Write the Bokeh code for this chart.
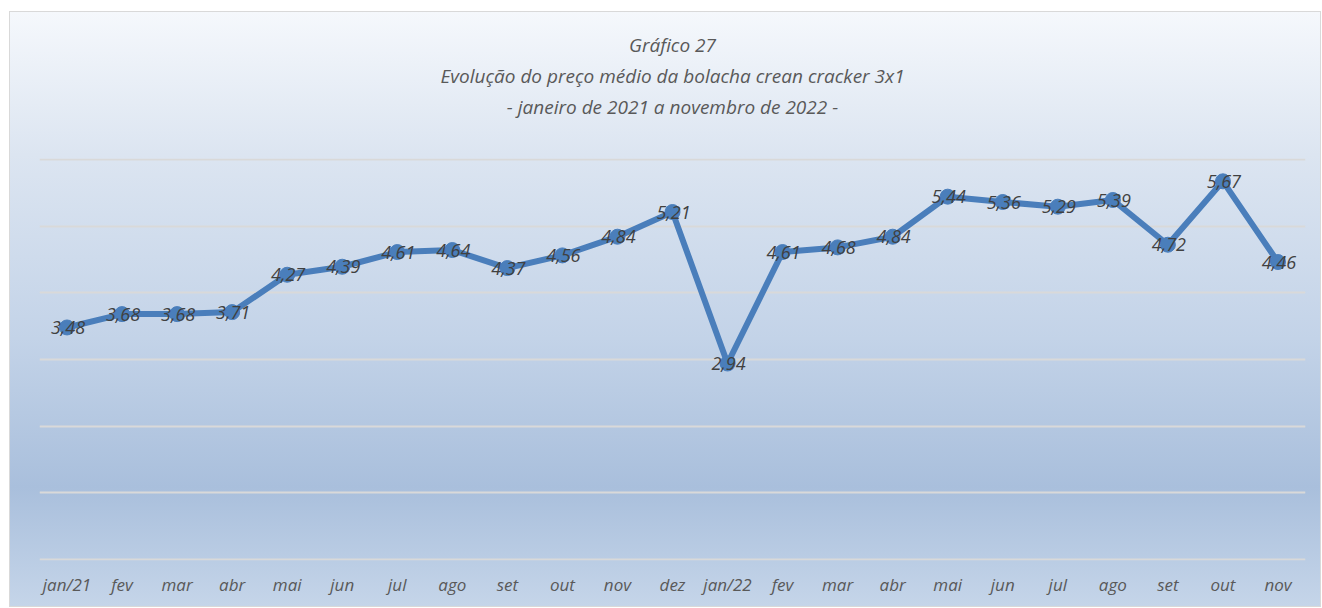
from bokeh.plotting import figure
from bokeh.models import ColumnDataSource, FixedTicker, Title, LabelSet
from bokeh.core.properties import value
from bokeh.embed import file_html
from bokeh.resources import INLINE

months = ["jan/21", "fev", "mar", "abr", "mai", "jun", "jul", "ago", "set", "out", "nov", "dez",
          "jan/22", "fev", "mar", "abr", "mai", "jun", "jul", "ago", "set", "out", "nov"]
prices = [3.48, 3.68, 3.68, 3.71, 4.27, 4.39, 4.61, 4.64, 4.37, 4.56, 4.84, 5.21,
          2.94, 4.61, 4.68, 4.84, 5.44, 5.36, 5.29, 5.39, 4.72, 5.67, 4.46]
title_lines = ["Gráfico 27",
               "Evolução do preço médio da bolacha crean cracker 3x1",
               "- janeiro de 2021 a novembro de 2022 -"]
y_ticks = [0, 1, 2, 3, 4, 5, 6]

FONT = "Open Sans"
xs = list(range(len(months)))
labels = [f"{v:.2f}".replace(".", ",") for v in prices]
src = ColumnDataSource(dict(x=xs, y=prices, lab=labels))

p = figure(width=1312, height=596, output_backend="svg", toolbar_location=None,
           x_range=(-0.5, len(months) - 0.5), y_range=(-0.012, 6.012),
           min_border_left=29, min_border_right=17, min_border_bottom=48, min_border_top=146,
           margin=(11, 0, 0, 9))
p.background_fill_alpha = 0
p.border_fill_alpha = 0
p.outline_line_color = None
p.styles = {"background": "linear-gradient(to bottom, #f5f8fc 0%, #dce5f1 24%, #c3d3e8 55%, #a9bfdc 80%, #c5d5e9 100%)",
            "border": "1px solid #d9d9d9"}

title_style = dict(align="center", text_font=FONT, text_font_style="italic",
                   text_font_size="19px", text_color="#595959", offset=0)
# spacer between the plot area and the title block
p.add_layout(Title(text=" ", standoff=9, **title_style), "above")
for t in reversed(title_lines):
    p.add_layout(Title(text=t, standoff=3, **title_style), "above")

p.line("x", "y", source=src, line_color="#4a7ebb", line_width=6)
p.scatter("x", "y", source=src, size=15, fill_color="#4a7ebb", line_color="#4a7ebb")
p.add_layout(LabelSet(x="x", y="y", text="lab", source=src, text_align="center",
                      text_baseline="middle", text_font=value(FONT), text_font_style="italic",
                      text_font_size="18px", text_color="#404040", x_offset=1))

p.xaxis.ticker = FixedTicker(ticks=xs)
p.xaxis.major_label_overrides = {i: m for i, m in enumerate(months)}
p.xaxis.axis_line_color = None
p.xaxis.major_tick_line_color = None
p.xaxis.minor_tick_line_color = None
p.xaxis.major_label_text_font = FONT
p.xaxis.major_label_text_font_style = "italic"
p.xaxis.major_label_text_font_size = "17px"
p.xaxis.major_label_text_color = "#595959"
p.xaxis.major_label_standoff = 6
p.yaxis.visible = False
p.xgrid.grid_line_color = None
p.ygrid.ticker = FixedTicker(ticks=y_ticks)
p.ygrid.grid_line_color = "#d9d9d9"
p.ygrid.grid_line_width = 2

open("out.html", "w").write(file_html(p, INLINE))
